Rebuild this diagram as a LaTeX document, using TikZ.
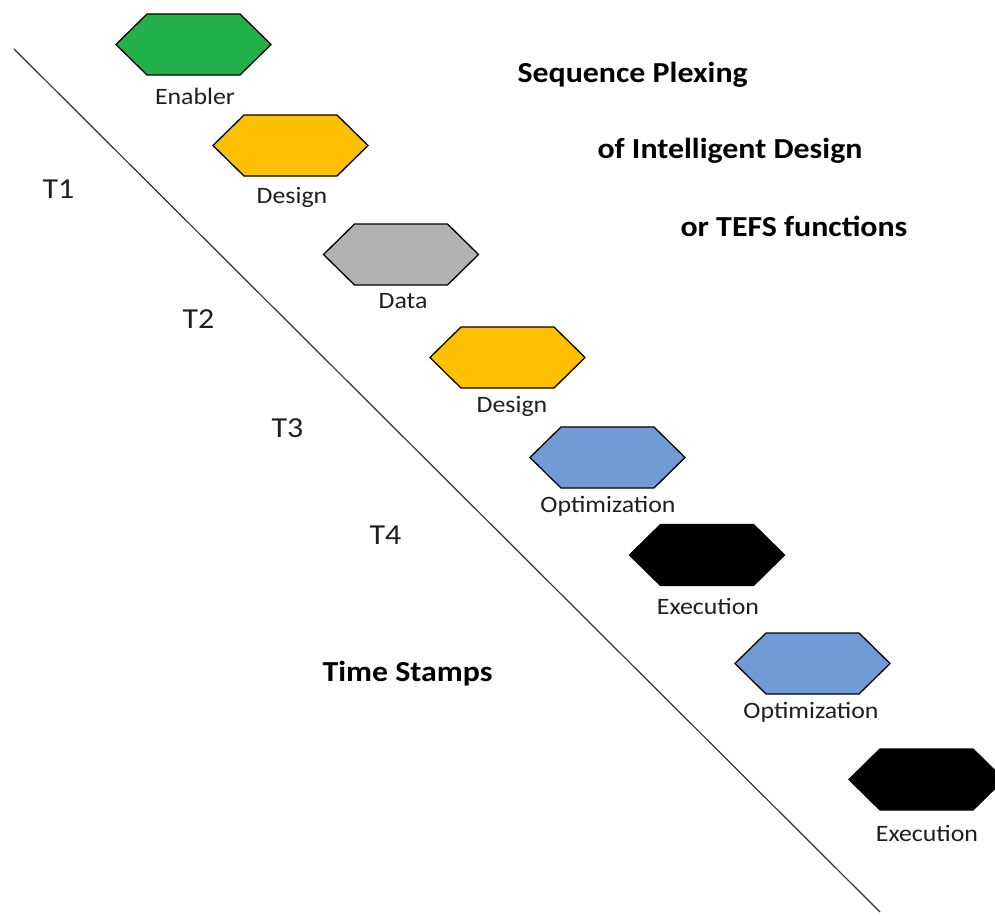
\documentclass[tikz,border=0pt]{standalone}
\usepackage{fontspec}
\setmainfont{Carlito}[FakeStretch=1.1]
\definecolor{hgreen}{HTML}{22B04B}
\definecolor{hyellow}{HTML}{FFC000}
\definecolor{hgray}{HTML}{B2B2B2}
\definecolor{hblue}{HTML}{709BD5}
\tikzset{
  hexbox/.style={minimum width=155pt, minimum height=61pt, inner sep=0pt, outer sep=0pt},
  hexlbl/.style={anchor=base, font=\fontsize{23.5}{26}\selectfont, text=black!88},
  tlbl/.style={anchor=base west, font=\fontsize{29}{32}\selectfont, text=black!88},
  ttl/.style={anchor=base west, font=\bfseries\fontsize{29}{32}\selectfont, text=black},
  hexline/.style={line width=1.3pt, draw=black},
  axisline/.style={line width=1.2pt, draw=black!80}
}
\newcommand\hexdraw[2]{\path[hexline, fill=#2] (#1.west) -- ([xshift=31pt]#1.north west) -- ([xshift=-31pt]#1.north east) -- (#1.east) -- ([xshift=-31pt]#1.south east) -- ([xshift=31pt]#1.south west) -- cycle;}
\begin{document}
\begin{tikzpicture}[x=1pt,y=-1pt]
\useasboundingbox (0,0) rectangle (995,915);
\clip (0,0) rectangle (995,915);
\fill[white] (0,0) rectangle (995,915);
% diagonal time line
\coordinate (ls) at (14,49);
\coordinate (le) at (880,912);
\draw[axisline] (ls) -- (le);
% hexagons
\node[hexbox] (h1) at (193.5,44.5) {};
\node[hexbox] (h2) at (290.5,145.5) {};
\node[hexbox] (h3) at (401,254.5) {};
\node[hexbox] (h4) at (507.5,357.5) {};
\node[hexbox] (h5) at (607.5,457.5) {};
\node[hexbox] (h6) at (707,555) {};
\node[hexbox] (h7) at (812.5,663.5) {};
\node[hexbox] (h8) at (926.5,779.5) {};
\hexdraw{h1}{hgreen}
\hexdraw{h2}{hyellow}
\hexdraw{h3}{hgray}
\hexdraw{h4}{hyellow}
\hexdraw{h5}{hblue}
\hexdraw{h6}{black}
\hexdraw{h7}{hblue}
\hexdraw{h8}{black}
% labels
\node[hexlbl] (l1) at (195,105) {Enabler};
\node[hexlbl] (l2) at (292,203) {Design};
\node[hexlbl] (l3) at (403,308) {Data};
\node[hexlbl] (l4) at (512,412) {Design};
\node[hexlbl] (l5) at (608,512) {Optimization};
\node[hexlbl] (l6) at (708,614) {Execution};
\node[hexlbl] (l7) at (811,718) {Optimization};
\node[hexlbl] (l8) at (927,841) {Execution};
% time stamps
\node[tlbl] (t1) at (39,198) {T1};
\node[tlbl] (t2) at (179,328) {T2};
\node[tlbl] (t3) at (268,437) {T3};
\node[tlbl] (t4) at (366,544) {T4};
% titles
\node[ttl] (s1) at (514,83) {Sequence Plexing};
\node[ttl] (s2) at (594,158) {of Intelligent Design};
\node[ttl] (s3) at (677,236) {or TEFS functions};
\node[ttl] (ts) at (319,681) {Time Stamps};
\end{tikzpicture}
\end{document}
